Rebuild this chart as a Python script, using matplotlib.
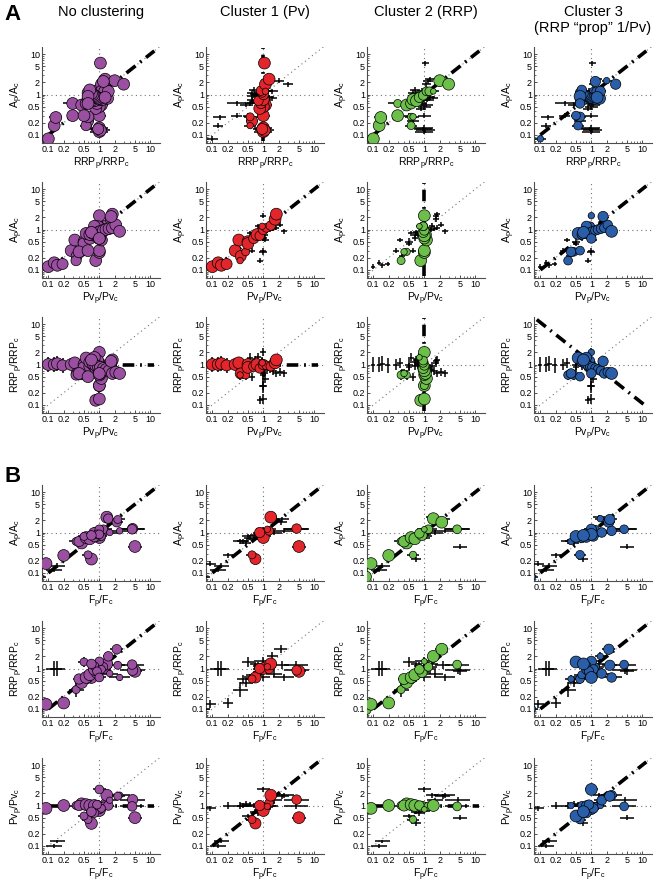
"""
Paired/control ratios of synaptic parameters, with and without clustering.
Rows A: amplitude, RRP and Pv against each other; rows B: against F.
"""
import numpy as np
import matplotlib.pyplot as plt
from matplotlib.ticker import LogLocator, NullFormatter

plt.rcParams["font.family"] = ["Liberation Sans", "DejaVu Sans"]
plt.rcParams["mathtext.fontset"] = "custom"
plt.rcParams["mathtext.rm"] = "Liberation Sans"
plt.rcParams["mathtext.it"] = "Liberation Sans"

nan = np.nan

# ratios paired / control, one entry per cell
rrp = np.array([1.00, 1.00, 1.05, 0.95, 1.00, 1.10, 0.60, 0.55, 1.00, 0.85,
                0.90, 1.00, 0.80, 1.00, 0.95, 0.90, 1.10, 1.30, 1.05,
                0.10, 0.13, 0.14, 0.30, 0.30, 0.45, 0.55, 0.60, 0.70, 0.80,
                0.95, 1.10, 2.00, 3.00, 0.55, 1.25,
                1.45, 1.50, 1.15, 1.05, 0.95, 0.90, 0.85, 0.80, 0.75, 0.70,
                0.60, 0.65, 0.60, 0.60, 0.50, 1.30, 1.20, 0.60])
pv = np.array([0.10, 0.13, 0.15, 0.19, 0.28, 0.33, 0.36, 0.45, 0.50, 0.50,
               0.65, 0.75, 0.85, 1.00, 1.15, 1.40, 1.70, 1.80, nan,
               nan, 0.85, 1.00, 1.00, 1.00, 1.10, 1.00, 1.05, 1.00, 0.95,
               1.00, 0.95, 1.00, nan, 0.35, 0.95,
               0.55, 0.80, 0.65, 0.75, 0.85, 0.95, 1.05, 1.20, 1.35, 1.55,
               1.80, 2.10, 2.50, 0.40, 0.60, 0.70, 1.70, 1.00])
amp = np.array([0.12, 0.15, 0.13, 0.14, 0.30, 0.55, 0.22, 0.28, 0.50, 0.45,
                0.60, 0.75, 0.70, 1.00, 1.10, 1.25, 1.80, 2.40, 6.00,
                0.08, 0.17, 0.27, 0.30, 0.60, 0.55, 0.60, 0.75, 0.70, 0.85,
                0.95, 1.20, 2.20, 1.80, 0.17, 1.20,
                0.80, 1.20, 0.75, 0.80, 0.80, 0.85, 0.90, 0.95, 1.00, 1.05,
                1.10, 1.30, 0.90, 0.28, 0.30, 0.85, 2.10, 0.60])
freq = np.array([0.13, 0.15, nan, nan, nan, nan, 0.70, 0.60, nan, 5.00,
                 nan, 1.00, nan, 0.85, 1.30, 4.50, nan, 1.40, nan,
                 0.07, 0.09, 0.20, nan, 0.35, 0.45, 0.40, 0.55, 0.65, 0.90,
                 0.80, 1.20, 1.50, 2.20, nan, 4.40,
                 0.50, 1.00, 0.80, nan, 1.10, nan, 0.90, nan, 1.60, nan,
                 2.50, nan, 1.00, nan, nan, 0.70, 2.30, nan])

# multiplicative error factors: bar spans value/err .. value*err
rrp_err = np.array([1.50, 1.50, 1.55, 1.50, 1.35, 1.35, 1.30, 1.30, 1.35, 1.25,
                    1.25, 1.30, 1.25, 1.25, 1.30, 1.25, 1.25, 1.25, 1.15,
                    1.30, 1.25, 1.35, 1.30, 1.55, 1.30, 1.25, 1.25, 1.25, 1.25,
                    1.25, 1.30, 1.25, 1.25, 1.30, 1.25,
                    1.30, 1.30, 1.25, 1.25, 1.25, 1.25, 1.25, 1.25, 1.25, 1.25,
                    1.25, 1.25, 1.25, 1.30, 1.25, 1.25, 1.25, 1.25])
pv_err = np.array([1.10, 1.10, 1.12, 1.12, 1.15, 1.15, 1.15, 1.15, 1.20, 1.15,
                   1.15, 1.15, 1.15, 1.15, 1.15, 1.15, 1.15, 1.15, 1.15,
                   1.15, 1.15, 1.20, 1.15, 1.20, 1.15, 1.15, 1.15, 1.15, 1.15,
                   1.15, 1.15, 1.15, 1.15, 1.15, 1.15,
                   1.15, 1.15, 1.15, 1.15, 1.15, 1.15, 1.15, 1.15, 1.15, 1.15,
                   1.15, 1.15, 1.15, 1.15, 1.15, 1.15, 1.15, 1.15])
amp_err = np.array([1.15, 1.15, 1.15, 1.15, 1.15, 1.15, 1.15, 1.15, 1.20, 1.15,
                    1.15, 1.15, 1.15, 1.15, 1.15, 1.15, 1.15, 1.15, 1.15,
                    1.15, 1.15, 1.15, 1.15, 1.15, 1.15, 1.15, 1.15, 1.15, 1.15,
                    1.15, 1.15, 1.15, 1.15, 1.15, 1.15,
                    1.15, 1.15, 1.15, 1.15, 1.15, 1.15, 1.15, 1.15, 1.15, 1.15,
                    1.15, 1.15, 1.15, 1.15, 1.15, 1.15, 1.15, 1.15])
freq_err = np.array([1.45, 1.40, 1.30, 1.30, 1.30, 1.30, 1.25, 1.30, 1.30, 1.40,
                     1.30, 1.30, 1.30, 1.30, 1.30, 1.75, 1.30, 1.30, 1.30,
                     1.30, 1.30, 1.25, 1.30, 1.40, 1.30, 1.30, 1.30, 1.40, 1.35,
                     1.30, 1.45, 1.30, 1.35, 1.30, 1.70,
                     1.30, 1.40, 1.30, 1.30, 1.30, 1.30, 1.30, 1.30, 1.45, 1.30,
                     1.60, 1.30, 1.35, 1.30, 1.30, 1.30, 1.40, 1.30])

# cluster membership weights (marker size), 0 = drawn as a bare cross
w_pv = np.array([1.0, 1.0, 1.0, 0.9, 1.0, 1.0, 0.9, 0.5, 1.0, 1.0,
                 0.8, 1.0, 0.7, 0.8, 0.6, 0.7, 1.0, 1.0, 1.0,
                 0, 0, 0, 0, 0, 0, 0, 0, 0, 0,
                 0, 0.3, 0, 0, 0.3, 0,
                 0, 0, 0, 0, 0, 0, 0, 0, 0, 0,
                 0, 0, 0, 0, 0, 0, 0, 0])
w_rrp = np.array([0, 0, 0, 0, 0, 0, 0, 0.4, 0, 0,
                  0, 0, 0, 0, 0, 0, 0, 0, 0,
                  1.0, 1.0, 1.0, 1.0, 0.5, 1.0, 0.9, 1.0, 1.0, 0.8,
                  0.7, 0.6, 1.0, 1.0, 0.5, 0.6,
                  0, 0.2, 0, 0, 0, 0, 0, 0, 0, 0,
                  0, 0, 0, 0.3, 0, 0, 0, 0])
w_prop = np.array([0, 0, 0, 0, 0, 0, 0, 0.6, 0, 0,
                   0, 0, 0.3, 0, 0, 0, 0, 0, 0,
                   0.3, 0, 0, 0, 0, 0, 0.3, 0, 0.5, 0.6,
                   0.7, 0.5, 0.3, 0.8, 0.6, 0.6,
                   1.0, 0.8, 0.7, 0.7, 0.7, 0.7, 0.7, 0.7, 0.7, 0.7,
                   0.7, 0.7, 1.0, 0.7, 0.6, 1.0, 0.8, 0.7])
# marker weight in the unclustered panels
size_a = np.array([1.0, 1.0, 1.0, 0.9, 1.0, 1.0, 0.9, 0.7, 1.0, 1.0,
                   1.0, 1.0, 1.0, 1.0, 1.0, 1.0, 1.0, 1.0, 1.0,
                   1.0, 1.0, 1.0, 1.0, 1.0, 1.0, 1.0, 1.0, 1.0, 1.0,
                   1.0, 1.0, 1.0, 1.0, 0.8, 0.9,
                   1.0, 1.0, 1.0, 1.0, 1.0, 1.0, 1.0, 1.0, 1.0, 1.0,
                   1.0, 1.0, 1.0, 1.0, 1.0, 1.0, 1.0, 1.0])
size_b = np.array([0, 0, 0, 0, 0, 0, 1.0, 0.5, 0, 1.0,
                   0, 1.0, 0, 0.8, 0.6, 0.8, 0, 1.0, 0,
                   0.2, 1.0, 1.0, 0, 0.5, 1.0, 0.8, 1.0, 1.0, 1.0,
                   1.0, 0.6, 0.7, 0.7, 0, 0.7,
                   0.5, 0.6, 0.6, 0, 0.5, 0, 0.6, 0, 0.3, 0,
                   0.3, 0, 0.6, 0, 0, 0.7, 0.5, 0])

variables = {"rrp": (rrp, rrp_err), "pv": (pv, pv_err),
             "amp": (amp, amp_err), "f": (freq, freq_err)}
labels = {"rrp": r"RRP$_\mathregular{p}$/RRP$_\mathregular{c}$",
          "pv": r"Pv$_\mathregular{p}$/Pv$_\mathregular{c}$",
          "amp": r"A$_\mathregular{p}$/A$_\mathregular{c}$",
          "f": r"F$_\mathregular{p}$/F$_\mathregular{c}$"}
row_vars = [("rrp", "amp"), ("pv", "amp"), ("pv", "rrp"),
            ("f", "amp"), ("f", "rrp"), ("f", "pv")]
fits = [["diag", "vert", "diag", "diag"],
        ["diag", "diag", "vert", "diag"],
        ["horiz", "horiz", "vert", "anti"],
        ["diag", "diag", "diag", "diag"],
        ["diag", None, "diag", "diag"],
        ["horiz", "diag", "horiz", "diag"]]

col_titles = ["No clustering", "Cluster 1 (Pv)", "Cluster 2 (RRP)", "Cluster 3"]
col_colors = ["#9a4fa0", "#e3262b", "#6cc04a", "#2a5ea8"]
col_weights = [None, w_pv, w_rrp, w_prop]

ticks = [0.1, 0.2, 0.5, 1, 2, 5, 10]
tick_labels = ["0.1", "0.2", "0.5", "1", "2", "5", "10"]

W, H = 660, 883
col_left = [42, 206, 367, 534]
row_top = [47, 182, 317, 485, 621, 758]
ax_w, ax_h = 118, 96

fig = plt.figure(figsize=(W / 100, H / 100), dpi=100)


def draw_fit(ax, kind):
    style = dict(color="k", lw=2.6, ls=(0, (3.2, 1.6, 0.5, 1.6)), zorder=2,
                 solid_capstyle="butt", dash_capstyle="butt")
    if kind == "diag":
        ax.plot([0.1, 12], [0.1, 12], **style)
    elif kind == "vert":
        ax.plot([1, 1], [0.07, 14], **style)
    elif kind == "horiz":
        ax.plot([0.1, 12], [1, 1], **style)
    elif kind == "anti":
        ax.plot([0.085, 12], [1.1 / 0.085, 1.1 / 12], **style)


for r, (xv, yv) in enumerate(row_vars):
    x, ex = variables[xv]
    y, ey = variables[yv]
    ok = np.isfinite(x) & np.isfinite(y)
    for c in range(4):
        ax = fig.add_axes([col_left[c] / W, 1 - (row_top[r] + ax_h) / H,
                           ax_w / W, ax_h / H])
        ax.set_xscale("log")
        ax.set_yscale("log")
        ax.set_xlim(0.075, 15.5)
        ax.set_ylim(0.063, 15)

        dot = dict(color="0.45", lw=0.8, ls=(0, (1, 3)), zorder=1)
        ax.axvline(1, **dot)
        ax.axhline(1, **dot)
        ax.plot([0.05, 20], [0.05, 20], **dot)
        draw_fit(ax, fits[r][c])

        ax.errorbar(x[ok], y[ok],
                    xerr=[x[ok] - x[ok] / ex[ok], x[ok] * ex[ok] - x[ok]],
                    yerr=[y[ok] - y[ok] / ey[ok], y[ok] * ey[ok] - y[ok]],
                    fmt="none", ecolor="k", elinewidth=1.1, capsize=0, zorder=3)

        if c == 0:
            w = size_a if r < 3 else size_b
        else:
            w = col_weights[c] if r < 3 else col_weights[c] * (size_b > 0)
        show = ok & (w > 0.1)
        ax.scatter(x[show], y[show], s=(3 + 5.5 * w[show]) ** 2,
                   c=col_colors[c], edgecolors="k", linewidths=0.5, zorder=4)

        ax.set_xticks(ticks)
        ax.set_xticklabels(tick_labels)
        ax.set_yticks(ticks)
        ax.set_yticklabels(tick_labels)
        for axis in (ax.xaxis, ax.yaxis):
            axis.set_minor_locator(LogLocator(base=10, subs=np.arange(2, 10), numticks=20))
            axis.set_minor_formatter(NullFormatter())
        ax.tick_params(which="major", direction="in", length=2.5, width=0.6,
                       labelsize=6.5, pad=1.5, colors="0.2", labelcolor="k")
        ax.tick_params(which="minor", direction="in", length=1.5, width=0.5,
                       colors="0.2")
        for side in ("top", "right"):
            ax.spines[side].set_visible(False)
        for side in ("left", "bottom"):
            ax.spines[side].set_linewidth(0.8)
            ax.spines[side].set_color("0.3")

        ax.set_xlabel(labels[xv], fontsize=7.5, labelpad=1)
        ax.set_ylabel(labels[yv], fontsize=7.5, labelpad=2)

for c in range(4):
    cx = (col_left[c] + ax_w / 2) / W
    fig.text(cx, 1 - 12 / H, col_titles[c], ha="center", va="center", fontsize=10.5)
fig.text((col_left[3] + ax_w / 2) / W, 1 - 28 / H, "(RRP \u201cprop\u201d 1/Pv)",
         ha="center", va="center", fontsize=10.5)

fig.text(13 / W, 1 - 15 / H, "A", ha="center", va="center", fontsize=16, fontweight="bold")
fig.text(13 / W, 1 - 476 / H, "B", ha="center", va="center", fontsize=16, fontweight="bold")

fig.savefig("out.png", dpi=100)
